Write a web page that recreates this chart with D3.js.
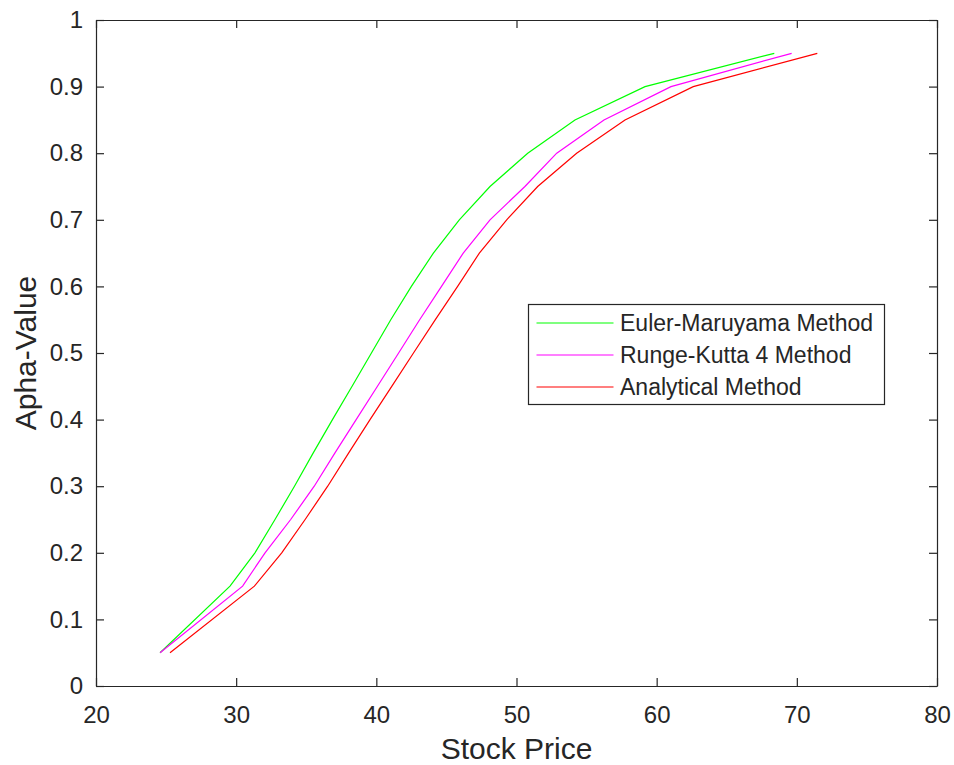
<!DOCTYPE html>
<html>
<head>
<meta charset="utf-8">
<script src="https://cdn.jsdelivr.net/npm/d3@7/dist/d3.min.js"></script>
<style>
	body { margin: 0; background: #fff; }
	text { font-family: "Liberation Sans", Arial, sans-serif; fill: #262626; }
</style>
</head>
<body>
<div id="chart"></div>
<script>
// alpha levels (y) and the stock price (x) each method gives at that level
var alphaValues = [0.05, 0.15, 0.2, 0.25, 0.3, 0.35, 0.4, 0.45, 0.5, 0.55, 0.6, 0.65, 0.7, 0.75, 0.8, 0.85, 0.9, 0.95];
var eulerPrice = [24.57, 29.56, 31.34, 32.77, 34.16, 35.5, 36.87, 38.27, 39.65, 41.03, 42.5, 44.07, 45.92, 48.11, 50.8, 54.17, 59.17, 68.39];
var rk4Price = [24.57, 30.46, 32.06, 33.89, 35.57, 37.05, 38.56, 40.08, 41.59, 43.09, 44.65, 46.2, 48.11, 50.6, 52.87, 56.24, 61.02, 69.63];
var analyticPrice = [25.28, 31.3, 33.25, 34.92, 36.53, 38.03, 39.55, 41.1, 42.65, 44.21, 45.8, 47.35, 49.3, 51.51, 54.29, 57.74, 62.61, 71.46];

var seriesNames = ["Euler-Maruyama Method", "Runge-Kutta 4 Method", "Analytical Method"];
var seriesColors = ["#00ff00", "#ff00ff", "#ff0000"];
var xTicks = [20, 30, 40, 50, 60, 70, 80];
var yTicks = [0, 0.1, 0.2, 0.3, 0.4, 0.5, 0.6, 0.7, 0.8, 0.9, 1];

var width = 954,
	height = 765,
	margins = {"top": 20, "bottom": 79, "left": 96, "right": 17},
	plotW = width - margins.left - margins.right,
	plotH = height - margins.top - margins.bottom;

var svg = d3.select("#chart")
	.append("svg")
	.attr("width", width)
	.attr("height", height)

var g = svg.append("g")
	.attr("transform", "translate(" + margins.left + "," + margins.top + ")")

var xScale = d3.scaleLinear()
	.domain([20, 80])
	.range([0, plotW])

var yScale = d3.scaleLinear()
	.domain([0, 1])
	.range([plotH, 0])

var fmt = function(d) { return String(+d.toFixed(1)); };

function styleAxis(sel, size) {
	sel.selectAll("path, line").attr("stroke", "#262626").attr("stroke-width", 1.2)
	sel.selectAll("text").style("font-size", size + "px").attr("fill", "#262626")
}

g.append("g")
	.attr("transform", "translate(0," + plotH + ")")
	.call(d3.axisBottom(xScale).tickValues(xTicks).tickSizeInner(-8).tickSizeOuter(0).tickPadding(20).tickFormat(fmt))
	.call(styleAxis, 24)

g.append("g")
	.call(d3.axisTop(xScale).tickValues(xTicks).tickSizeInner(-8).tickSizeOuter(0).tickFormat(""))
	.call(styleAxis, 24)

g.append("g")
	.call(d3.axisLeft(yScale).tickValues(yTicks).tickSizeInner(-8).tickSizeOuter(0).tickPadding(13).tickFormat(fmt))
	.call(styleAxis, 24)

g.append("g")
	.attr("transform", "translate(" + plotW + ",0)")
	.call(d3.axisRight(yScale).tickValues(yTicks).tickSizeInner(-8).tickSizeOuter(0).tickFormat(""))
	.call(styleAxis, 24)

var allSeries = [eulerPrice, rk4Price, analyticPrice];

var line = d3.line()
	.x(function(d) { return xScale(d[0]) })
	.y(function(d) { return yScale(d[1]) })

g.selectAll("path.series")
	.data(allSeries)
	.enter()
	.append("path")
	.attr("class", "series")
	.attr("fill", "none")
	.attr("stroke", function(d, i) { return seriesColors[i] })
	.attr("stroke-width", 1.2)
	.attr("d", function(d) { return line(d.map(function(p, j) { return [p, alphaValues[j]] })) })

// axis labels
svg.append("text")
	.attr("x", margins.left + plotW / 2)
	.attr("y", 759)
	.attr("text-anchor", "middle")
	.style("font-size", "30px")
	.text("Stock Price")

svg.append("text")
	.attr("transform", "translate(36," + (margins.top + plotH / 2) + ") rotate(-90)")
	.attr("text-anchor", "middle")
	.style("font-size", "30px")
	.text("Apha-Value")

// legend
var legend = svg.append("g")
	.attr("transform", "translate(528.5,304.5)")

legend.append("rect")
	.attr("width", 356)
	.attr("height", 100)
	.attr("fill", "#fff")
	.attr("stroke", "#262626")
	.attr("stroke-width", 1.2)

var items = legend.selectAll("g.item")
	.data(seriesNames)
	.enter()
	.append("g")
	.attr("class", "item")
	.attr("transform", function(d, i) { return "translate(0," + (18.5 + i * 32) + ")" })

items.append("line")
	.attr("x1", 8)
	.attr("x2", 85)
	.attr("stroke", function(d, i) { return seriesColors[i] })
	.attr("stroke-width", 1.2)

items.append("text")
	.attr("x", 91.5)
	.attr("dy", "0.35em")
	.style("font-size", "23px")
	.text(function(d) { return d })
</script>
</body>
</html>
